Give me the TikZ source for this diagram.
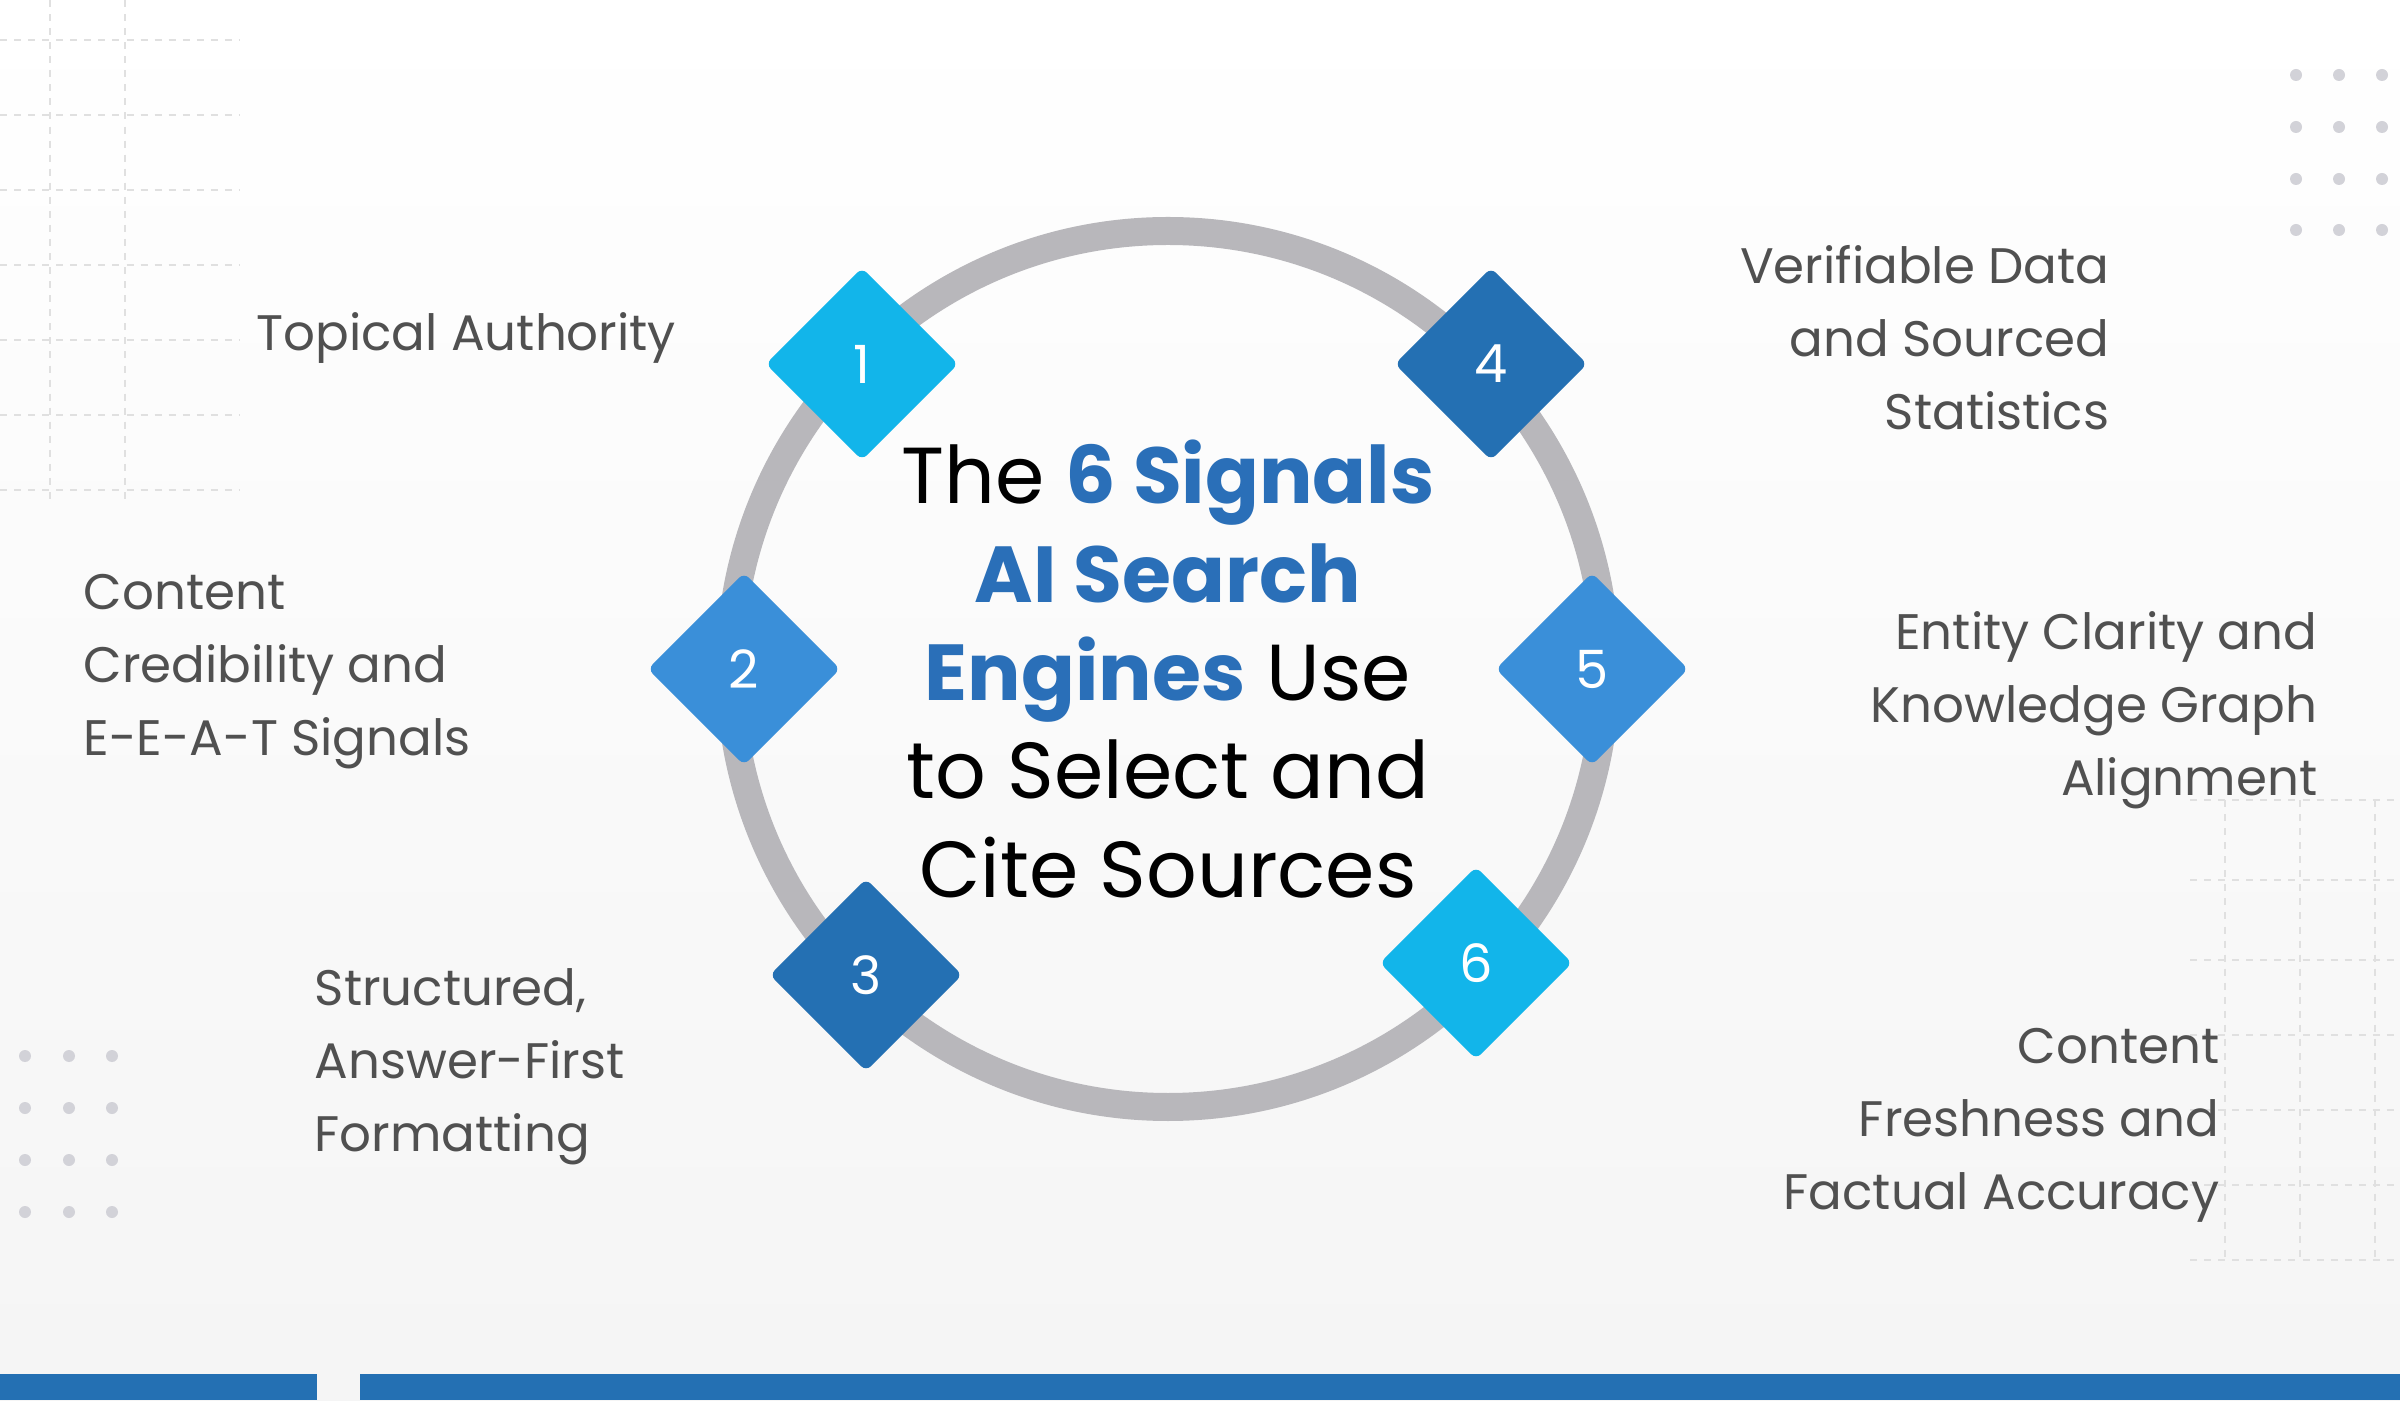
\documentclass[tikz,border=0pt]{standalone}
\usepackage{fontspec}
\setmainfont{Poppins}
\definecolor{cyanB}{HTML}{12B5EA}
\definecolor{midB}{HTML}{3A8FD9}
\definecolor{darkB}{HTML}{2470B3}
\definecolor{titleB}{HTML}{2A6FB8}
\definecolor{lbl}{HTML}{505050}
\definecolor{ring}{HTML}{B8B7BB}
\definecolor{dotc}{HTML}{D2D2D8}
\begin{document}
\begin{tikzpicture}[
  dia/.style={draw=none,fill=#1,minimum width=1.36cm,minimum height=1.36cm,rotate=45,rounded corners=2pt,inner sep=0pt},
  num/.style={text=white,font=\fontsize{15}{18}\selectfont},
  lab/.style={text=lbl,font=\fontsize{14.2}{20.8}\selectfont,inner sep=0pt},
  grid/.style={draw=black!12,dash pattern=on 2pt off 2pt,line width=0.4pt}
]
\useasboundingbox (0,0) rectangle (24,14);
\shade[top color=white,bottom color=black!4] (0,0) rectangle (24,14);
% faint grids
\foreach \x in {0.5,1.25} \draw[grid] (\x,14) -- (\x,9);
\foreach \y in {13.6,12.85,12.1,11.35,10.6,9.85,9.1} \draw[grid] (0,\y) -- (2.4,\y);
\foreach \x in {22.25,23.0,23.75} \draw[grid] (\x,6.0) -- (\x,1.4);
\foreach \y in {6.0,5.2,4.4,3.65,2.9,2.15,1.4} \draw[grid] (21.9,\y) -- (24,\y);
% dots
\foreach \x in {22.96,23.39,23.82} \foreach \y in {13.25,12.73,12.21,11.70} \fill[dotc] (\x,\y) circle (0.06);
\foreach \x in {0.25,0.69,1.12} \foreach \y in {3.44,2.92,2.40,1.88} \fill[dotc] (\x,\y) circle (0.06);
% ring
\coordinate (c) at (11.68,7.31);
\draw[ring,line width=0.28cm] (c) circle (4.38);
% title
\node[align=center,font=\fontsize{22.6}{28}\selectfont,inner sep=0pt] (title) at (11.68,7.31)
 {The \textcolor{titleB}{\textbf{6 Signals}}\\ \textcolor{titleB}{\textbf{AI Search}}\\ \textcolor{titleB}{\textbf{Engines}} Use\\ to Select and\\ Cite Sources};
% diamonds
\node[dia=cyanB] (d1) at (8.62,10.36) {}; \node[num] at (d1) {1};
\node[dia=midB]  (d2) at (7.44,7.31) {};  \node[num] at (d2) {2};
\node[dia=darkB] (d3) at (8.66,4.25) {};  \node[num] at (d3) {3};
\node[dia=darkB] (d4) at (14.91,10.36) {}; \node[num] at (d4) {4};
\node[dia=midB]  (d5) at (15.92,7.31) {}; \node[num] at (d5) {5};
\node[dia=cyanB] (d6) at (14.76,4.37) {}; \node[num] at (d6) {6};
% labels
\node[lab,anchor=west,align=left] (l1) at (2.56,10.62) {Topical Authority};
\node[lab,anchor=west,align=left] (l2) at (0.83,7.28) {Content\\Credibility and\\E-E-A-T Signals};
\node[lab,anchor=west,align=left] (l3) at (3.14,3.33) {Structured,\\Answer-First\\Formatting};
\node[lab,anchor=east,align=right] (l4) at (21.10,10.62) {Verifiable Data\\and Sourced\\Statistics};
\node[lab,anchor=east,align=right] (l5) at (23.18,6.90) {Entity Clarity and\\Knowledge Graph\\Alignment};
\node[lab,anchor=east,align=right] (l6) at (22.20,2.75) {Content\\Freshness and\\Factual Accuracy};
% bottom bars
\fill[darkB] (0,0) rectangle (3.17,0.26);
\fill[darkB] (3.60,0) rectangle (24,0.26);
\end{tikzpicture}
\end{document}
